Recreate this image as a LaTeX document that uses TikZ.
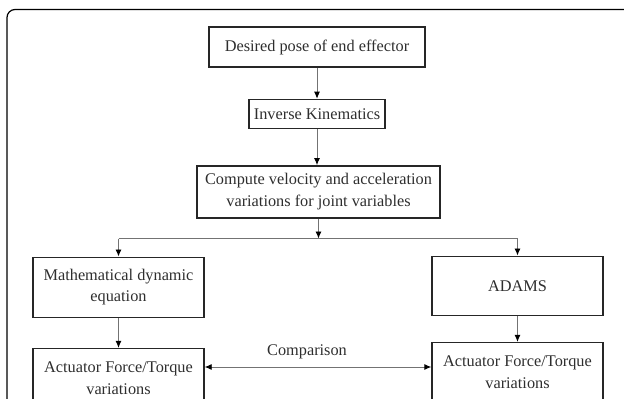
\documentclass[tikz,border=0pt]{standalone}
\usepackage{fontspec}
\setmainfont{Liberation Serif}
\usepackage{xcolor}
\usepackage{tikz}
\usetikzlibrary{arrows.meta, positioning}
\definecolor{inkgray}{HTML}{2E2E2E}

\begin{document}
\begin{tikzpicture}[
    x=1pt, y=-1pt,
    stepbox/.style={draw=black!85, line width=1.4pt, rectangle, align=center, text=inkgray, inner sep=2pt, font=\fontsize{16.3}{21.5}\selectfont},
    arrow/.style={-{Latex[length=7pt, width=6pt, color=black]}, line width=0.9pt, draw=black!55},
    link/.style={line width=0.9pt, draw=black!55},
    frame/.style={draw=black, line width=1.2pt, rounded corners=8pt}
]
\useasboundingbox (0,0) rectangle (624,399);
\clip (0,0) rectangle (624,399);
\draw[frame] (7,9.5) rectangle (634,440);

\node[stepbox, minimum width=216pt, minimum height=40pt] (pose) at (317,47) {Desired pose of end effector};
\node[stepbox, below=31pt of pose, minimum width=136pt, minimum height=29pt] (ik) {Inverse Kinematics};
\node[stepbox, below=36pt of ik, xshift=1.5pt, minimum width=243pt, minimum height=52pt] (vel) {Compute velocity and acceleration \\ variations for joint variables};
\coordinate[below=20pt of vel] (split);
\node[stepbox, below=38pt of vel, xshift=-200pt, minimum width=171pt, minimum height=60pt] (math) {Mathematical dynamic \\ equation};
\node[stepbox, below=37pt of vel, xshift=199pt, minimum width=171pt, minimum height=59pt] (adams) {ADAMS};
\node[stepbox, below=30pt of math, minimum width=171pt, minimum height=59pt] (leftact) {Actuator Force/Torque \\ variations};
\node[stepbox, below=26pt of adams, minimum width=171pt, minimum height=59pt] (rightact) {Actuator Force/Torque \\ variations};

\draw[arrow] (pose) -- (ik);
\draw[arrow] (ik) -- (ik |- vel.north);
\draw[arrow] (vel) -- (split);
\draw[link] (math.north |- split) -- (adams.north |- split);
\draw[arrow] (math.north |- split) -- (math);
\draw[arrow] (adams.north |- split) -- (adams);
\draw[arrow] (math) -- (leftact);
\draw[arrow] (adams) -- (rightact);
\draw[arrow, {Latex[length=7pt, width=6pt, color=black]}-{Latex[length=7pt, width=6pt, color=black]}] (rightact.west |- 0,367) -- (leftact.east |- 0,367) node[midway, above=4pt, xshift=-11pt, text=inkgray, font=\fontsize{16.3}{21.5}\selectfont] {Comparison};
\end{tikzpicture}
\end{document}
